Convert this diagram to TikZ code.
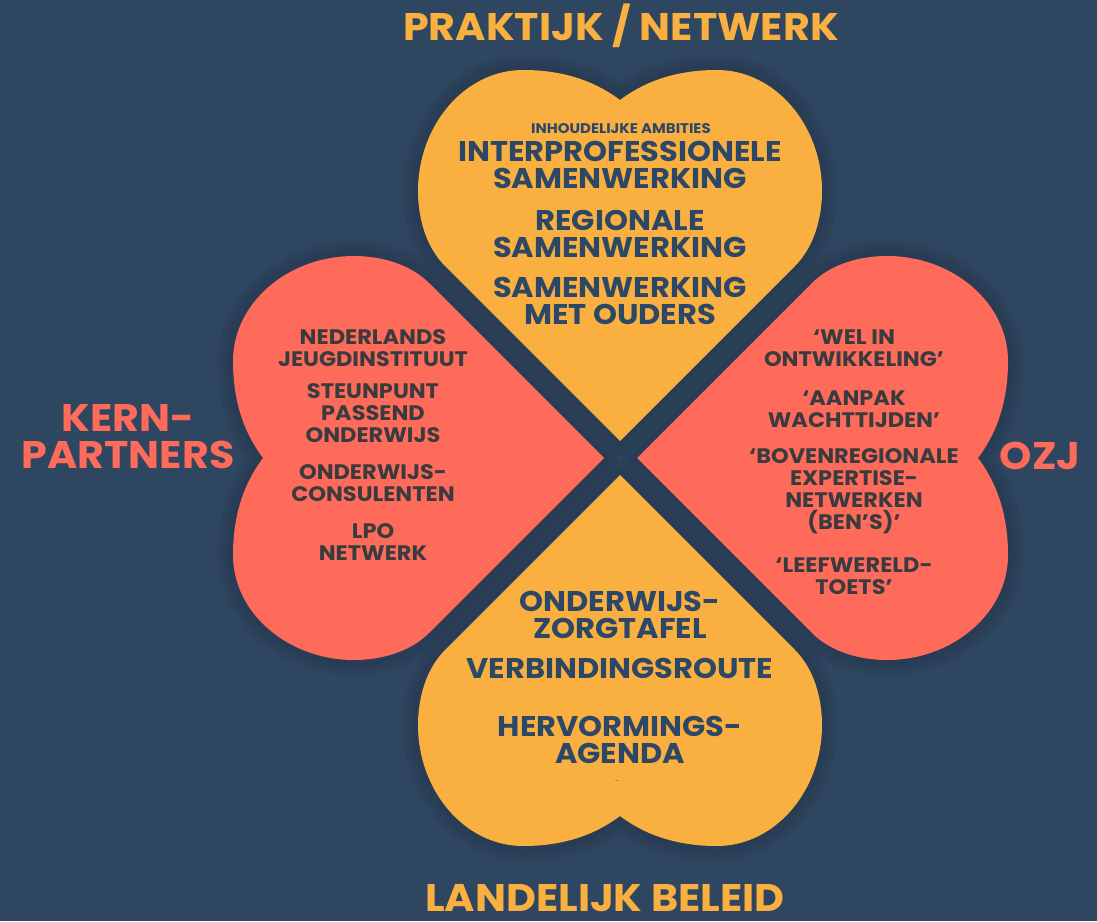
\documentclass[tikz,border=0pt]{standalone}
\usepackage{fontspec}
\setmainfont{Poppins}[FakeStretch=1.07]
\definecolor{navy}{HTML}{2E4660}
\definecolor{sun}{HTML}{FAB040}
\definecolor{coral}{HTML}{FF6B5B}
\definecolor{ink}{HTML}{3A3B3F}
\definecolor{textnavy}{HTML}{2D4866}

\begin{document}
\begin{tikzpicture}[x=1pt, y=-1pt,
  heartshape/.pic={\path[pic actions] (0,0) -- (-175,-175)
    .. controls (-195,-195) and (-202,-225) .. (-202,-250)
    .. controls (-202,-316) and (-155,-371) .. (-97,-371)
    .. controls (-50,-371) and (-20,-356) .. (0,-341)
    .. controls (20,-356) and (50,-371) .. (97,-371)
    .. controls (155,-371) and (202,-316) .. (202,-250)
    .. controls (202,-225) and (195,-195) .. (175,-175) -- cycle;},
  halo/.style={draw=black, draw opacity=0.045, line width=#1, line join=round},
  title/.style={font=\fontsize{38.5}{38}\selectfont\bfseries},
  bigitem/.style={font=\fontsize{28.5}{27}\selectfont\bfseries, text=textnavy, align=center},
  smallitem/.style={font=\fontsize{21}{22}\selectfont\bfseries, text=ink, align=center}]
  \useasboundingbox (0,0) rectangle (1097,921);
  \fill[navy] (0,0) rectangle (1097,921);
  % soft shade round the hearts
  \foreach \w in {30pt,20pt,10pt} {
    \pic[halo=\w] at (620,441) {heartshape};
    \pic[halo=\w, rotate=180] at (620,475) {heartshape};
    \pic[halo=\w, rotate=90] at (604,458) {heartshape};
    \pic[halo=\w, rotate=-90] at (637,458) {heartshape};
  }
  % the four hearts, tips towards the middle
  \pic[fill=sun] at (620,441) {heartshape};
  \pic[fill=sun, rotate=180] at (620,475) {heartshape};
  \pic[fill=coral, rotate=90] at (604,458) {heartshape};
  \pic[fill=coral, rotate=-90] at (637,458) {heartshape};
  % titles round the clover
  \node[title, text=sun] (praktijk) at (621,26) {PRAKTIJK / NETWERK};
  \node[title, text=sun, anchor=base, inner sep=0pt] (landelijk) at (605,911) {LANDELIJK BELEID};
  \node[title, text=coral, align=center, font=\fontsize{38.5}{37}\selectfont\bfseries] (kern) at (128,437) {KERN-\\PARTNERS};
  \node[title, text=coral] (ozj) at (1040,456) {OZJ};
  % top heart
  \node[bigitem, font=\fontsize{14}{14}\selectfont\bfseries] (ambities) at (621,129) {INHOUDELIJKE AMBITIES};
  \node[bigitem] (interprof) at (620,165) {INTERPROFESSIONELE\\SAMENWERKING};
  \node[bigitem] (regionaal) at (620,234) {REGIONALE\\SAMENWERKING};
  \node[bigitem] (ouders) at (620,301) {SAMENWERKING\\MET OUDERS};
  % left heart
  \node[smallitem] (nji) at (373,348) {NEDERLANDS\\JEUGDINSTITUUT};
  \node[smallitem] (steunpunt) at (373,413) {STEUNPUNT\\PASSEND\\ONDERWIJS};
  \node[smallitem] (consulenten) at (373,483) {ONDERWIJS-\\CONSULENTEN};
  \node[smallitem] (lpo) at (373,542) {LPO\\NETWERK};
  % right heart
  \node[smallitem] (wel) at (854,348) {‘WEL IN\\ONTWIKKELING’};
  \node[smallitem] (aanpak) at (854,409) {‘AANPAK\\WACHTTIJDEN’};
  \node[smallitem] (bens) at (854,491) {‘BOVENREGIONALE\\EXPERTISE-\\NETWERKEN\\(BEN’S)’};
  \node[smallitem] (toets) at (854,576) {‘LEEFWERELD-\\TOETS’};
  % bottom heart
  \node[bigitem] (zorgtafel) at (620,615) {ONDERWIJS-\\ZORGTAFEL};
  \node[bigitem] (route) at (620,668) {VERBINDINGSROUTE};
  \node[bigitem] (agenda) at (620,740) {HERVORMINGS-\\AGENDA};
  \node[font=\fontsize{6}{6}\selectfont, text=textnavy] (streep) at (617,782) {-};
\end{tikzpicture}
\end{document}
